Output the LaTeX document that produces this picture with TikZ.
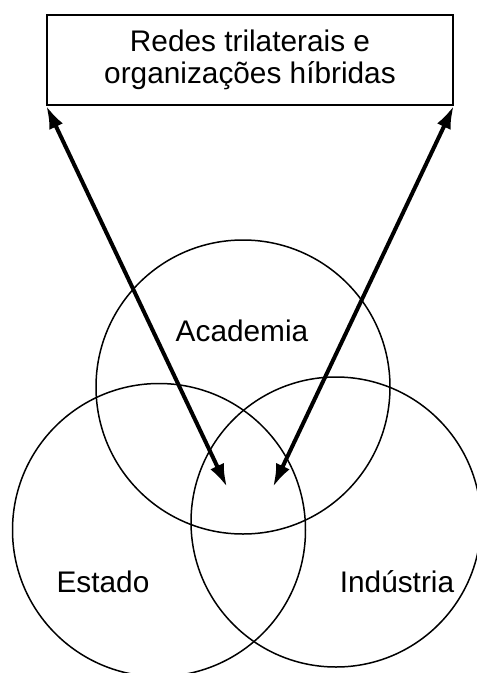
\documentclass[tikz,border=0pt]{standalone}
\usepackage{fontspec}
\setmainfont{Liberation Sans}
\usepackage{tikz}
\usetikzlibrary{arrows.meta,positioning}

\begin{document}
\begin{tikzpicture}[
    x=1pt, y=-1pt,
    netbox/.style={
      draw=black,
      line width=1.5pt,
      minimum width=406pt,
      minimum height=90pt,
      align=center,
      font=\fontsize{29.8}{31.5}\selectfont
    },
    ring/.style={draw=black, line width=1.5pt, circle, inner sep=0pt},
    sphere/.style={anchor=base, font=\fontsize{29.8}{31.5}\selectfont},
    arrow/.style={{Latex[length=23pt,width=15pt]}-{Latex[length=23pt,width=15pt]},
      line width=4pt, draw=black}
  ]
    \useasboundingbox (0,0) rectangle (477,673);

    \node[netbox] (redes) at (250,60) {Redes trilaterais e\\organizações híbridas};

    \node[ring, minimum size=294pt] (academia) at (243,387) {};
    \node[ring, minimum size=293pt] (estado) at (159,530) {};
    \node[ring, minimum size=290pt] (industria) at (336,522) {};

    \node[sphere] (academialabel) at (242,341) {Academia};
    \node[sphere] (estadolabel) at (103,592) {Estado};
    \node[sphere] (industrialabel) at (397,592) {Indústria};

    \coordinate (leftend) at (227,487);
    \coordinate (rightend) at (273,487);

    \draw[arrow] (redes.south west) -- (leftend);
    \draw[arrow] (redes.south east) -- (rightend);
  \end{tikzpicture}
\end{document}
